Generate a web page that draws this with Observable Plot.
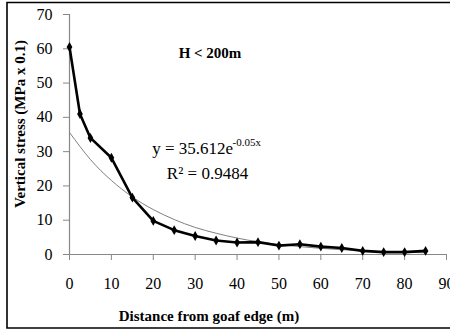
<!DOCTYPE html>
<html>
<head>
<meta charset="utf-8">
<script src="https://cdn.jsdelivr.net/npm/d3@7"></script>
<script src="https://cdn.jsdelivr.net/npm/@observablehq/plot@0.6"></script>
<style>
  html, body { margin: 0; padding: 0; background: #fff; }
  #chart svg { display: block; }
</style>
</head>
<body>
<div id="chart"></div>
<script>
// Measured vertical stress vs distance from goaf edge
const distance = [0, 2.5, 5, 10, 15, 20, 25, 30, 35, 40, 45, 50, 55, 60, 65, 70, 75, 80, 85];
const stress   = [60.5, 41, 34, 28.2, 16.6, 9.8, 7.1, 5.4, 4.1, 3.5, 3.6, 2.6, 3.0, 2.3, 1.9, 1.05, 0.7, 0.7, 1.05];

// Exponential trendline
const fitDistance = [0, 5, 10, 15, 20, 25, 30, 35, 40, 45, 50, 55, 60, 65, 70, 75, 80, 85];
const fitStress   = [35.6, 27.7, 21.6, 16.8, 13.1, 10.2, 7.9, 6.2, 4.8, 3.7, 2.9, 2.3, 1.8, 1.4, 1.1, 0.8, 0.65, 0.5];

const xTicks = [0, 10, 20, 30, 40, 50, 60, 70, 80, 90];
const yTicks = [0, 10, 20, 30, 40, 50, 60, 70];

const xTitle = "Distance from goaf edge (m)";
const yTitle = "Vertical stress (MPa x 0.1)";
const caseLabel = "H < 200m";
const eqMain = "y = 35.612e";
const eqExp = "-0.05x";
const r2Label = "R² = 0.9484";

const measured = distance.map((d, i) => ({x: d, y: stress[i]}));
const fitted = fitDistance.map((d, i) => ({x: d, y: fitStress[i]}));

const font = "'Liberation Serif', 'Times New Roman', serif";

const plot = Plot.plot({
  width: 450,
  height: 330,
  marginLeft: 69,
  marginRight: 4,
  marginTop: 14,
  marginBottom: 76,
  style: {fontFamily: font, fontSize: "16px", background: "transparent", color: "black"},
  x: {domain: [0, 90], ticks: xTicks},
  y: {domain: [0, 70], ticks: yTicks},
  marks: [
    Plot.ruleY([0], {stroke: "#888", strokeWidth: 1.2}),
    Plot.ruleX([0], {stroke: "#888", strokeWidth: 1.2}),
    Plot.axisX({ticks: xTicks, tickSize: 6, tickPadding: 17, label: null, stroke: "#888", fill: "black", fontSize: 16}),
    Plot.axisY({ticks: yTicks, tickSize: 6, tickPadding: 11, label: null, stroke: "#888", fill: "black", fontSize: 16}),
    Plot.line(fitted, {x: "x", y: "y", stroke: "#7f7f7f", strokeWidth: 1, curve: "natural"}),
    Plot.line(measured, {x: "x", y: "y", stroke: "black", strokeWidth: 2.6}),
    Plot.dot(measured, {x: "x", y: "y", symbol: "diamond", r: 3, fill: "black", stroke: "none"}),
    Plot.text([caseLabel], {frameAnchor: "top-left", dx: 140.5, dy: 38.7, text: d => d, textAnchor: "middle", lineAnchor: "middle", fontWeight: "bold", fontSize: 15, fill: "black"}),
    Plot.text([eqMain], {frameAnchor: "top-left", dx: 82.7, dy: 134, text: d => d, textAnchor: "start", lineAnchor: "middle", fontSize: 17, fill: "black"}),
    Plot.text([eqExp], {frameAnchor: "top-left", dx: 163, dy: 127.5, text: d => d, textAnchor: "start", lineAnchor: "middle", fontSize: 11, fill: "black"}),
    Plot.text([r2Label], {frameAnchor: "top-left", dx: 138, dy: 159.3, text: d => d, textAnchor: "middle", lineAnchor: "middle", fontSize: 17, fill: "black"}),
    Plot.text([xTitle], {frameAnchor: "bottom", dx: -49, dy: 61.4, text: d => d, textAnchor: "middle", lineAnchor: "middle", fontWeight: "bold", fontSize: 15, fill: "black"}),
    Plot.text([yTitle], {frameAnchor: "left", dx: -49, dy: -10.5, text: d => d, rotate: -90, textAnchor: "middle", lineAnchor: "middle", fontWeight: "bold", fontSize: 15, fill: "black"})
  ]
});

// image border (left, top, bottom edges)
d3.select(plot).append("path")
  .attr("d", "M451,2.5H7V328H451")
  .attr("fill", "none")
  .attr("stroke", "black")
  .attr("stroke-width", 1.6);

document.getElementById("chart").appendChild(plot);
</script>
</body>
</html>
